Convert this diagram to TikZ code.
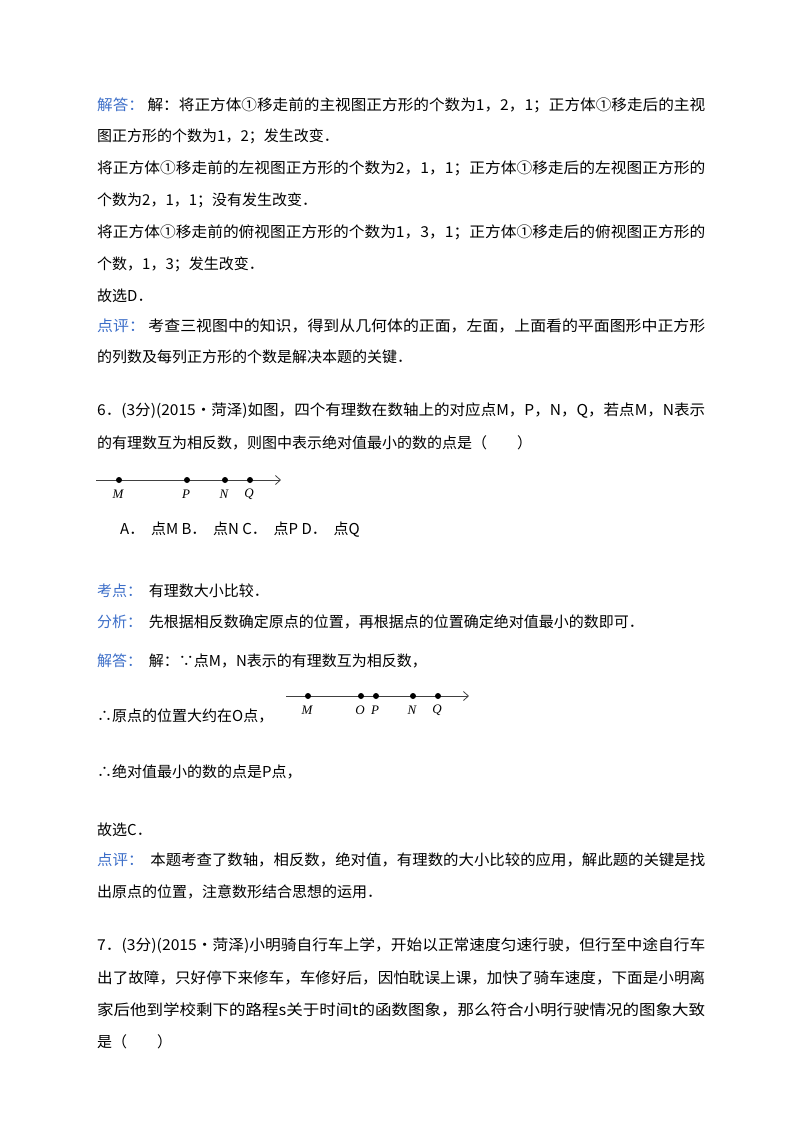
\documentclass[tikz,border=0pt]{standalone}
\usepackage{fontspec}
\setmainfont{Liberation Serif}
\newfontfamily\cjk{Noto Sans CJK SC}
\usepackage{graphicx}
\usetikzlibrary{arrows.meta}
\definecolor{kblue}{RGB}{60,110,200}
\begin{document}
\begin{tikzpicture}[x=1pt,y=-1pt,
  tl/.style={anchor=west,inner sep=0pt,font=\cjk\fontsize{15}{15}\selectfont},
  lab/.style={anchor=center,inner sep=0pt,font=\itshape\fontsize{13}{13}\selectfont},
  dotp/.style={circle,fill=black,inner sep=0pt,minimum size=6pt},
  nl/.style={-{Straight Barb[length=5pt,width=9pt]},line width=0.8pt,draw=black!75}]
\newcommand\full[1]{\resizebox{608pt}{\height}{#1}}
\newcommand\kb[1]{\textcolor{kblue}{#1}}
\useasboundingbox (0,0) rectangle (800,1132);
\node[tl] (l1) at (97,105) {\full{\kb{解答：}\ 解：将正方体①移走前的主视图正方形的个数为1，2，1；正方体①移走后的主视}};
\node[tl] (l2) at (97,136) {图正方形的个数为1，2；发生改变．};
\node[tl] (l3) at (97,168) {\full{将正方体①移走前的左视图正方形的个数为2，1，1；正方体①移走后的左视图正方形的}};
\node[tl] (l4) at (97,200) {个数为2，1，1；没有发生改变．};
\node[tl] (l5) at (97,232) {\full{将正方体①移走前的俯视图正方形的个数为1，3，1；正方体①移走后的俯视图正方形的}};
\node[tl] (l6) at (97,264) {个数，1，3；发生改变．};
\node[tl] (l7) at (97,296) {故选D．};
\node[tl] (l8) at (97,326) {\full{\kb{点评：}\ 考查三视图中的知识，得到从几何体的正面，左面，上面看的平面图形中正方形}};
\node[tl] (l9) at (97,357) {的列数及每列正方形的个数是解决本题的关键．};
\node[tl] (q1) at (97,411) {\full{6．(3分)(2015•菏泽)如图，四个有理数在数轴上的对应点M，P，N，Q，若点M，N表示}};
\node[tl] (q2) at (97,443) {的有理数互为相反数，则图中表示绝对值最小的数的点是（　　）};
% number line 1
\coordinate (a1) at (96,480); \coordinate (b1) at (281,480);
\draw[nl] (a1) -- (b1);
\foreach \n/\x in {M/119,P/187,N/225,Q/250}{
  \node[dotp] (d1\n) at (\x,480) {};
  \node[lab] (t1\n) at (\x-1,494) {\n};}
\node[tl] (opt) at (120,530) {A．\ \ 点M B．\ \ 点N C．\ \ 点P D．\ \ 点Q};
\node[tl] (k1) at (97,591) {\kb{考点：}\ \ 有理数大小比较．};
\node[tl] (k2) at (97,622) {\kb{分析：}\ \ 先根据相反数确定原点的位置，再根据点的位置确定绝对值最小的数即可．};
\node[tl] (k3) at (97,661) {\kb{解答：}\ \ 解：∵点M，N表示的有理数互为相反数，};
\node[tl] (k4) at (97,716) {∴原点的位置大约在O点，};
% number line 2
\coordinate (a2) at (286,696); \coordinate (b2) at (469,696);
\draw[nl] (a2) -- (b2);
\foreach \n/\x in {M/308,O/361,P/376,N/413,Q/438}{
  \node[dotp] (d2\n) at (\x,696) {};
  \node[lab] (t2\n) at (\x-1,710) {\n};}
\node[tl] (k5) at (97,772) {∴绝对值最小的数的点是P点，};
\node[tl] (k6) at (97,830) {故选C．};
\node[tl] (k7) at (97,860) {\full{\kb{点评：}\ \ 本题考查了数轴，相反数，绝对值，有理数的大小比较的应用，解此题的关键是找}};
\node[tl] (k8) at (97,892) {出原点的位置，注意数形结合思想的运用．};
\node[tl] (r1) at (97,946) {\full{7．(3分)(2015•菏泽)小明骑自行车上学，开始以正常速度匀速行驶，但行至中途自行车}};
\node[tl] (r2) at (97,978) {\full{出了故障，只好停下来修车，车修好后，因怕耽误上课，加快了骑车速度，下面是小明离}};
\node[tl] (r3) at (97,1010) {\full{家后他到学校剩下的路程s关于时间t的函数图象，那么符合小明行驶情况的图象大致}};
\node[tl] (r4) at (97,1042) {是（　　）};
\end{tikzpicture}
\end{document}
